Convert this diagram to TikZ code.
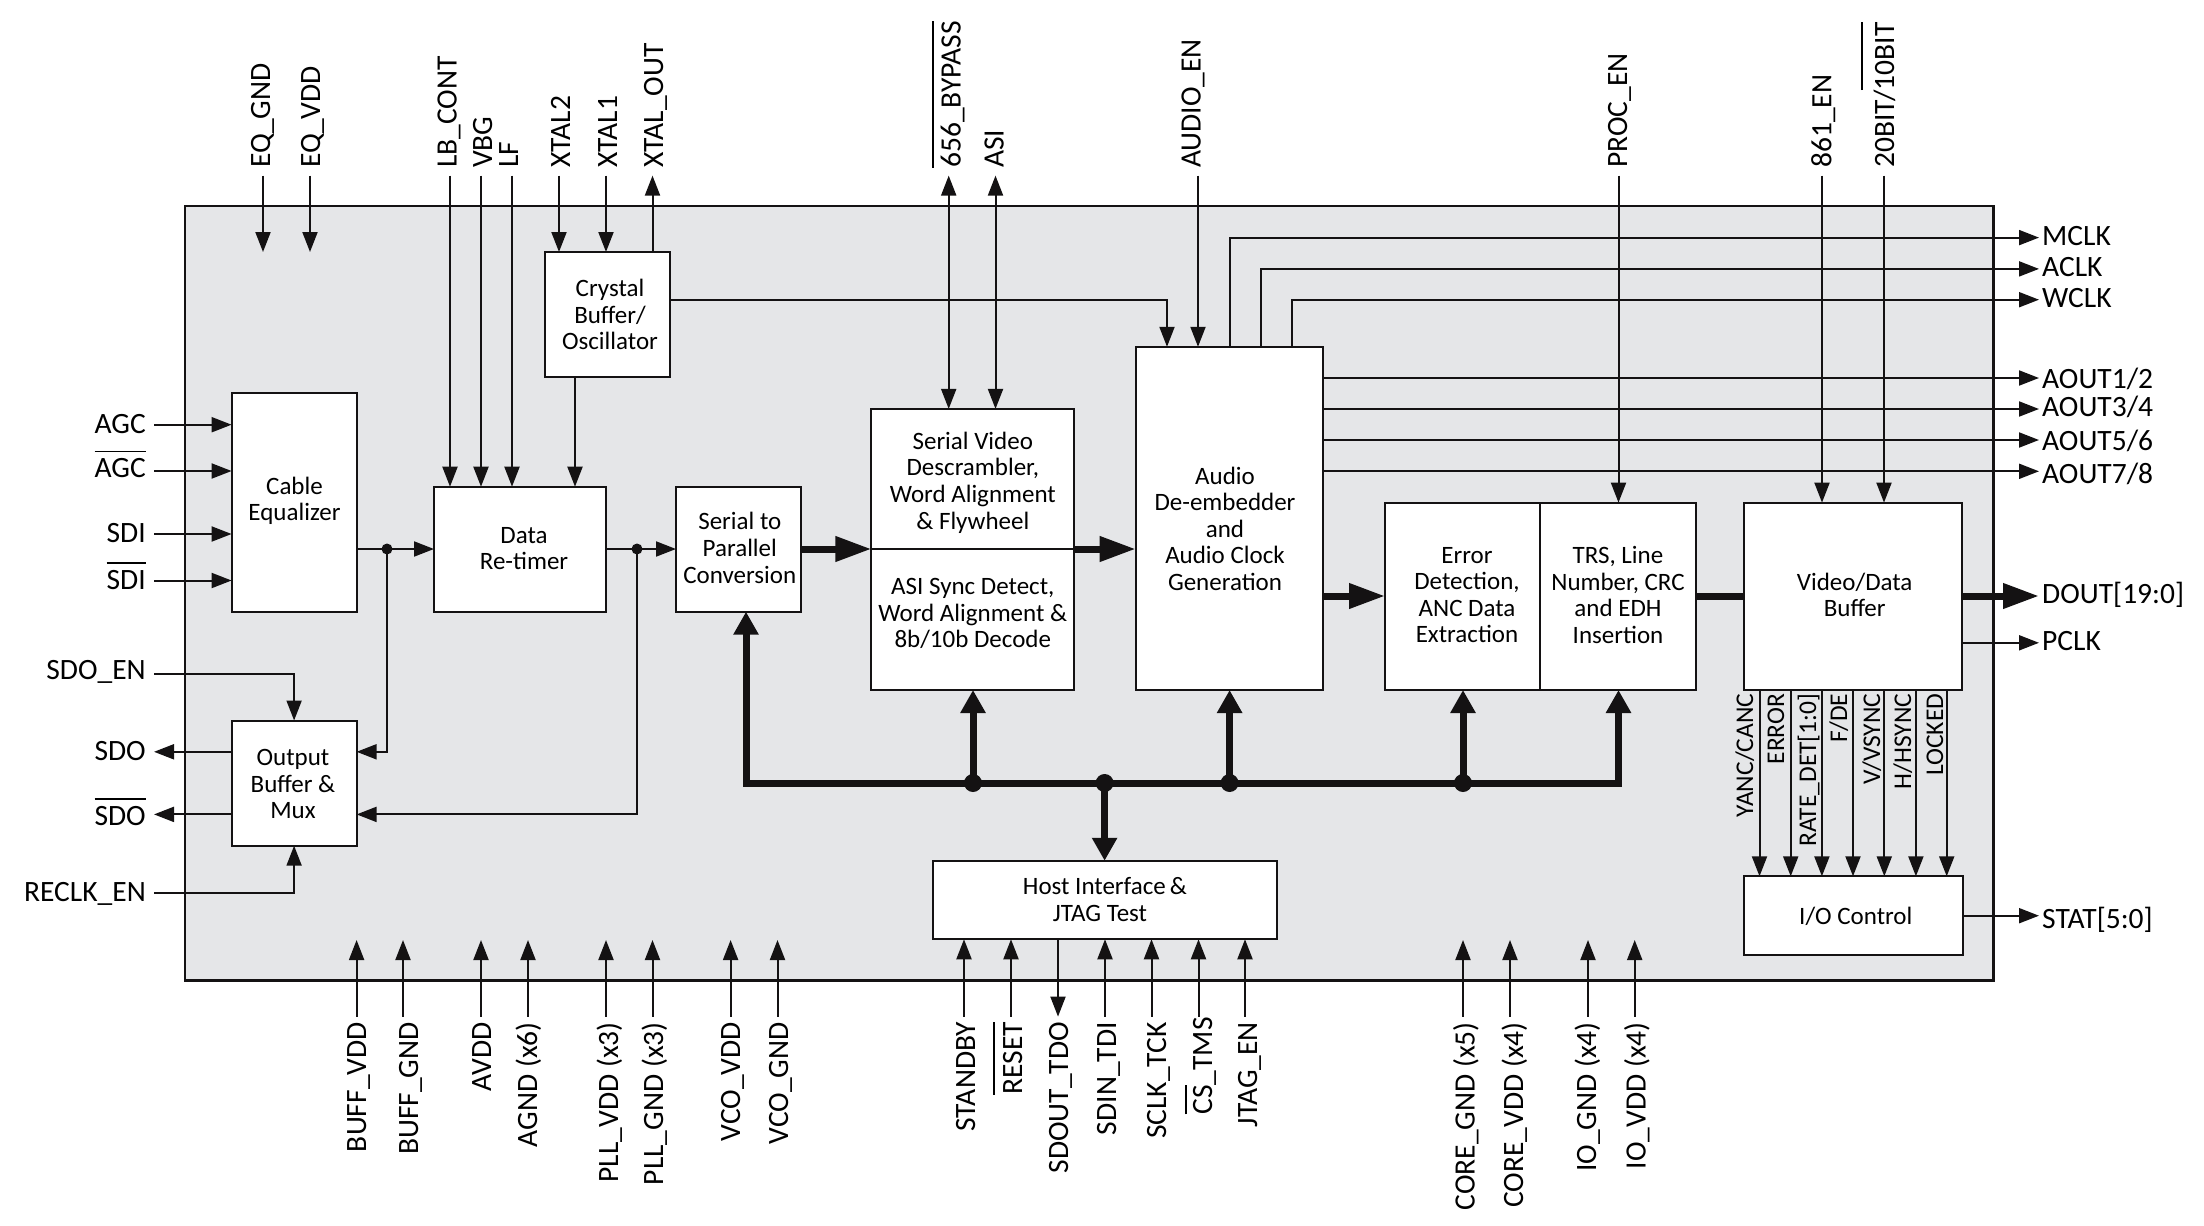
\documentclass[tikz,border=0pt]{standalone}
\usepackage{fontspec}
\setmainfont{Carlito}
\usetikzlibrary{arrows.meta}
\definecolor{ink}{HTML}{141213}
\definecolor{panelgrey}{HTML}{E5E6E8}
% overline bar set above a piece of text, with an adjustable gap
\newcommand\barred[2][7pt]{\leavevmode\vbox{\hrule height 1.8pt\kern #1\hbox{#2}}}
\tikzset{
  sig/.style={draw=ink,line width=2pt,-{Triangle[length=20pt,width=15pt]}},
  plain/.style={draw=ink,line width=2pt},
  twoway/.style={draw=ink,line width=2pt,{Triangle[length=20pt,width=15pt]}-{Triangle[length=20pt,width=15pt]}},
  fat/.style={draw=ink,line width=7pt,-{Triangle[length=36pt,width=24pt]}},
  fatplain/.style={draw=ink,line width=7pt},
  bustip/.style={draw=ink,line width=7pt,-{Triangle[length=23pt,width=24pt]}},
  busboth/.style={draw=ink,line width=7pt,miter limit=10,{Triangle[length=23pt,width=24pt]}-{Triangle[length=23pt,width=24pt]}},
  blk/.style={draw=ink,fill=white,line width=2pt,inner sep=0pt,outer sep=0pt},
  boxtxt/.style={inner sep=0pt,align=center,text=black,font=\fontsize{25}{26.6}\selectfont},
  sideL/.style={inner sep=0pt,anchor=base east,text=black,font=\fontsize{29.5}{32}\selectfont},
  sideR/.style={inner sep=0pt,anchor=base west,text=black,font=\fontsize{29.5}{32}\selectfont},
  pinTop/.style={inner sep=0pt,rotate=90,anchor=base west,text=black,font=\fontsize{29.5}{32}\selectfont},
  pinBot/.style={inner sep=0pt,rotate=90,anchor=base east,text=black,font=\fontsize{29.5}{32}\selectfont},
  pinIn/.style={inner sep=0pt,rotate=90,anchor=base east,text=black,font=\fontsize{25.5}{27}\selectfont},
  smalldot/.style={circle,fill=ink,inner sep=0pt,minimum size=11pt},
  busdot/.style={circle,fill=ink,inner sep=0pt,minimum size=18pt},
}
\begin{document}
\begin{tikzpicture}[x=1pt,y=-1pt]
\useasboundingbox (0,0) rectangle (2204,1226);

% device outline
\node[draw=ink,fill=panelgrey,line width=2.5pt,inner sep=0pt,outer sep=0pt,minimum width=1808.5pt,minimum height=774.6pt] (chip) at (1089.25,593.3) {};

% junctions
\node[smalldot] (dEq) at (387,549) {};
\node[smalldot] (dRt) at (637,549) {};
\coordinate (busL) at (746,783);
\coordinate (busR) at (1618.5,783);
\coordinate (supplyTip) at (0,940);

% free ends of the pins
\foreach \n/\x in {EQGND/263,EQVDD/310}{
  \coordinate (t\n) at (\x,175.6);
  \coordinate (e\n) at (\x,252);
}
\foreach \n/\x in {LB/450,VBG/481,LF/512,XTB/559,XTA/606,XTO/652.5,BYP/948.7,ASI/995.5,AUD/1198,PROC/1618.5,HD/1822,BIT/1884}{
  \coordinate (t\n) at (\x,175.6);
}
\foreach \n/\y in {AGC/424.7,AGCb/471,SDI/534,SDIb/580.5,SDOEN/673.7,SDO/751.8,SDOb/814.4,RECLK/892.5}{
  \coordinate (l\n) at (154,\y);
}
\foreach \n/\y in {MCLK/237.6,ACLK/268.9,WCLK/299.7,AUa/378,AUb/409,AUc/440,AUd/471.3,DOUT/596,PCLK/642.8,STAT/915.7}{
  \coordinate (r\n) at (2039,\y);
}
\foreach \n/\x in {BV/356.6,BG/403,AV/481,AG/528,PV/606,PG/652.5,VV/730.6,VG/777.5,ST/964,RS/1011,DO/1058,DI/1105,CK/1151.5,MS/1198.5,JE/1245,CG/1463,CV/1510,IG/1588,IV/1634.7}{
  \coordinate (b\n) at (\x,1016.6);
}

% function blocks
\node[blk,minimum width=125pt,minimum height=125pt] (crystal) at (607,314.5) {};
\node[blk,minimum width=125pt,minimum height=218.7pt] (cable) at (294.1,502.35) {};
\node[blk,minimum width=172pt,minimum height=125pt] (retimer) at (520,549.2) {};
\node[blk,minimum width=125pt,minimum height=125pt] (s2p) at (738.5,549.2) {};
\node[blk,minimum width=125pt,minimum height=125.2pt] (outbuf) at (294.1,783.1) {};
\node[blk,minimum width=202.6pt,minimum height=140.2pt] (descr) at (972.7,479) {};
\node[blk,minimum width=202.6pt,minimum height=141pt] (asi) at (972.7,619.5) {};
\node[blk,minimum width=187.2pt,minimum height=343.2pt] (audio) at (1229.3,518.4) {};
\node[blk,minimum width=155pt,minimum height=187.4pt] (error) at (1462.5,596.3) {};
\node[blk,minimum width=156pt,minimum height=187.4pt] (trs) at (1618,596.3) {};
\node[blk,minimum width=218.7pt,minimum height=187.4pt] (buffer) at (1853.1,596.3) {};
\node[blk,minimum width=218.8pt,minimum height=78.4pt] (io) at (1853.1,915.5) {};
\node[blk,minimum width=343.5pt,minimum height=78.5pt] (host) at (1104.75,900) {};

% block captions
\node[boxtxt] (crystalT) at (610,314.5) {Crystal\\Buffer/\\Oscillator};
\node[boxtxt] (cableT) at (294.5,501) {Cable\\Equalizer};
\node[boxtxt] (retimerT) at (524,548.6) {Data\\Re-timer};
\node[boxtxt] (s2pT) at (739.8,548) {Serial to\\Parallel\\Conversion};
\node[boxtxt] (outbufT) at (293,784) {Output\\Buffer \&\\Mux};
\node[boxtxt] (descrT) at (972.8,482.5) {Serial Video\\Descrambler,\\Word Alignment\\\& Flywheel};
\node[boxtxt] (asiT) at (972.8,613.5) {ASI Sync Detect,\\Word Alignment \&\\8b/10b Decode};
\node[boxtxt] (audioT) at (1225,528.7) {Audio\\De-embedder\\and\\Audio Clock\\Generation};
\node[boxtxt] (errorT) at (1467,595) {Error\\Detection,\\ANC Data\\Extraction};
\node[boxtxt] (trsT) at (1618,595) {TRS, Line\\Number, CRC\\and EDH\\Insertion};
\node[boxtxt] (bufferT) at (1854.7,595) {Video/Data\\Buffer};
\node[boxtxt] (ioT) at (1855.8,916.5) {I/O Control};
\node[boxtxt] (hostT) at (1105,899.7) {Host Interface\,\&\\JTAG Test\hspace*{10pt}};

% left-hand pins
\draw[sig] (lAGC) -- (cable.west |- lAGC);
\draw[sig] (lAGCb) -- (cable.west |- lAGCb);
\draw[sig] (lSDI) -- (cable.west |- lSDI);
\draw[sig] (lSDIb) -- (cable.west |- lSDIb);
\draw[sig] (lSDOEN) -| (outbuf.north);
\draw[sig] (outbuf.west |- lSDO) -- (lSDO);
\draw[sig] (outbuf.west |- lSDOb) -- (lSDOb);
\draw[sig] (lRECLK) -| (outbuf.south);

% top pins
\draw[sig] (tEQGND) -- (eEQGND);
\draw[sig] (tEQVDD) -- (eEQVDD);
\draw[sig] (tLB) -- (tLB |- retimer.north);
\draw[sig] (tVBG) -- (tVBG |- retimer.north);
\draw[sig] (tLF) -- (tLF |- retimer.north);
\draw[sig] (tXTB) -- (tXTB |- crystal.north);
\draw[sig] (tXTA) -- (tXTA |- crystal.north);
\draw[sig] (tXTO |- crystal.north) -- (tXTO);
\draw[twoway] (tBYP) -- (tBYP |- descr.north);
\draw[twoway] (tASI) -- (tASI |- descr.north);
\draw[sig] (tAUD) -- (tAUD |- audio.north);
\draw[sig] (tPROC) -- (tPROC |- trs.north);
\draw[sig] (tHD) -- (tHD |- buffer.north);
\draw[sig] (tBIT) -- (tBIT |- buffer.north);

% internal links
\draw[sig] (575,0 |- crystal.south) -- (575,0 |- retimer.north);
\draw[sig] (crystal.east |- rWCLK) -| (1167,0 |- audio.north);
\draw[sig] (cable.east |- dEq) -- (retimer.west |- dEq);
\draw[sig] (retimer.east |- dRt) -- (s2p.west |- dRt);
\draw[sig] (dEq.center) |- (outbuf.east |- lSDO);
\draw[sig] (dRt.center) |- (outbuf.east |- lSDOb);
\draw[fat] (s2p.east |- dRt) -- (descr.west |- dRt);
\draw[fat] (descr.east |- dRt) -- (audio.west |- dRt);
\draw[fat] (audio.east |- rDOUT) -- (error.west |- rDOUT);
\draw[fatplain] (trs.east |- rDOUT) -- (buffer.west |- rDOUT);

% right-hand pins
\draw[sig] (1229.5,0 |- audio.north) |- (rMCLK);
\draw[sig] (1260.7,0 |- audio.north) |- (rACLK);
\draw[sig] (1292,0 |- audio.north) |- (rWCLK);
\draw[sig] (audio.east |- rAUa) -- (rAUa);
\draw[sig] (audio.east |- rAUb) -- (rAUb);
\draw[sig] (audio.east |- rAUc) -- (rAUc);
\draw[sig] (audio.east |- rAUd) -- (rAUd);
\draw[fat] (buffer.east |- rDOUT) -- (rDOUT);
\draw[sig] (buffer.east |- rPCLK) -- (rPCLK);
\draw[sig] (io.east |- rSTAT) -- (rSTAT);

% status lines from the buffer to the I/O block
\foreach \x in {1759.5,1790.7,1821.9,1853,1884.3,1915.9,1946.7}{
  \draw[sig] (\x,0 |- buffer.south) -- (\x,0 |- io.north);
}

% control bus
\draw[busboth] (busL |- s2p.south) -- (busL) -- (busR) -- (busR |- trs.south);
\node[busdot] (dBusA) at (973,783) {};
\node[busdot] (dBusB) at (1104.6,783) {};
\node[busdot] (dBusC) at (1229.6,783) {};
\node[busdot] (dBusD) at (1463,783) {};
\draw[bustip] (dBusA.center) -- (dBusA |- asi.south);
\draw[bustip] (dBusC.center) -- (dBusC |- audio.south);
\draw[bustip] (dBusD.center) -- (dBusD |- error.south);
\draw[bustip] (dBusB.center) -- (dBusB |- host.north);

% supply pins and host pins along the bottom
\foreach \n in {BV,BG,AV,AG,PV,PG,VV,VG,CG,CV,IG,IV}{
  \draw[sig] (b\n) -- (b\n |- supplyTip);
}
\foreach \n in {ST,RS,DI,CK,MS,JE}{
  \draw[sig] (b\n) -- (b\n |- host.south);
}
\draw[sig] (bDO |- host.south) -- (bDO);

% left pin names
\node[sideL] (nAGC) at (146,433) {AGC};
\node[sideL] (nAGCb) at (146,477.6) {\barred[6pt]{AGC}};
\node[sideL] (nSDI) at (146,542.5) {SDI};
\node[sideL] (nSDIb) at (146,589) {\barred[6pt]{SDI}};
\node[sideL] (nSDOEN) at (146,679) {SDO\_EN};
\node[sideL] (nSDO) at (146,760) {SDO};
\node[sideL] (nSDOb) at (146,825) {\barred[6pt]{SDO}};
\node[sideL] (nRECLK) at (146,901) {RECLK\_EN};

% right pin names
\node[sideR] (nMCLK) at (2042,245) {MCLK};
\node[sideR] (nACLK) at (2042,276.8) {ACLK};
\node[sideR] (nWCLK) at (2042,307.6) {WCLK};
\node[sideR] (nAUa) at (2042,388.5) {AOUT1/2};
\node[sideR] (nAUb) at (2042,416) {AOUT3/4};
\node[sideR] (nAUc) at (2042,450.8) {AOUT5/6};
\node[sideR] (nAUd) at (2042,483) {AOUT7/8};
\node[sideR] (nDOUT) at (2042,603.8) {DOUT[19:0]};
\node[sideR] (nPCLK) at (2042,650) {PCLK};
\node[sideR] (nSTAT) at (2042,928) {STAT[5:0]};

% top pin names
\node[pinTop] (nEQGND) at (270,168) {EQ\_GND};
\node[pinTop] (nEQVDD) at (320,168) {EQ\_VDD};
\node[pinTop] (nLB) at (456.6,168) {LB\_CONT};
\node[pinTop] (nVBG) at (492,168) {VBG};
\node[pinTop] (nLF) at (518,168) {LF};
\node[pinTop] (nXTB) at (570,168) {XTAL2};
\node[pinTop] (nXTA) at (617,168) {XTAL1};
\node[pinTop] (nXTO) at (663,168) {XTAL\_OUT};
\node[pinTop] (nBYP) at (960.7,168) {\barred{656\_BYPASS}};
\node[pinTop] (nASI) at (1003.6,168) {ASI};
\node[pinTop] (nAUD) at (1200.5,168) {AUDIO\_EN};
\node[pinTop] (nPROC) at (1627,168) {PROC\_EN};
\node[pinTop] (nHD) at (1831.4,168) {861\_EN};
\node[pinTop] (nBIT) at (1894,168) {20BIT/\barred[12pt]{10BIT}};

% bottom pin names
\node[pinBot] (nBV) at (366,1022) {BUFF\_VDD};
\node[pinBot] (nBG) at (418,1022) {BUFF\_GND};
\node[pinBot] (nAV) at (491,1022) {AVDD};
\node[pinBot] (nAG) at (537,1022) {AGND (x6)};
\node[pinBot] (nPV) at (618,1022) {PLL\_VDD (x3)};
\node[pinBot] (nPG) at (663,1022) {PLL\_GND (x3)};
\node[pinBot] (nVV) at (740,1022) {VCO\_VDD};
\node[pinBot] (nVG) at (788,1022) {VCO\_GND};
\node[pinBot] (nST) at (975,1022) {STANDBY};
\node[pinBot] (nRS) at (1022,1022) {\barred[8pt]{RESET}};
\node[pinBot] (nDO) at (1068,1022) {SDOUT\_TDO};
\node[pinBot] (nDI) at (1116,1022) {SDIN\_TDI};
\node[pinBot] (nCK) at (1166,1022) {SCLK\_TCK};
\node[pinBot] (nMS) at (1212,1017) {\barred[6pt]{CS}\_TMS};
\node[pinBot] (nJE) at (1257,1022) {JTAG\_EN};
\node[pinBot] (nCG) at (1474.5,1022) {CORE\_GND (x5)};
\node[pinBot] (nCV) at (1523,1022) {CORE\_VDD (x4)};
\node[pinBot] (nIG) at (1596,1022) {IO\_GND (x4)};
\node[pinBot] (nIV) at (1645.5,1022) {IO\_VDD (x4)};

% status line names
\node[pinIn] (nYC) at (1753,693.5) {YANC/CANC};
\node[pinIn] (nER) at (1784,693.5) {ERROR};
\node[pinIn] (nRD) at (1816,693.5) {RATE\_DET[1:0]};
\node[pinIn] (nFD) at (1847,693.5) {F/DE};
\node[pinIn] (nVS) at (1880,693.5) {V/VSYNC};
\node[pinIn] (nHS) at (1911,693.5) {H/HSYNC};
\node[pinIn] (nLK) at (1943,693.5) {LOCKED};
\end{tikzpicture}
\end{document}
